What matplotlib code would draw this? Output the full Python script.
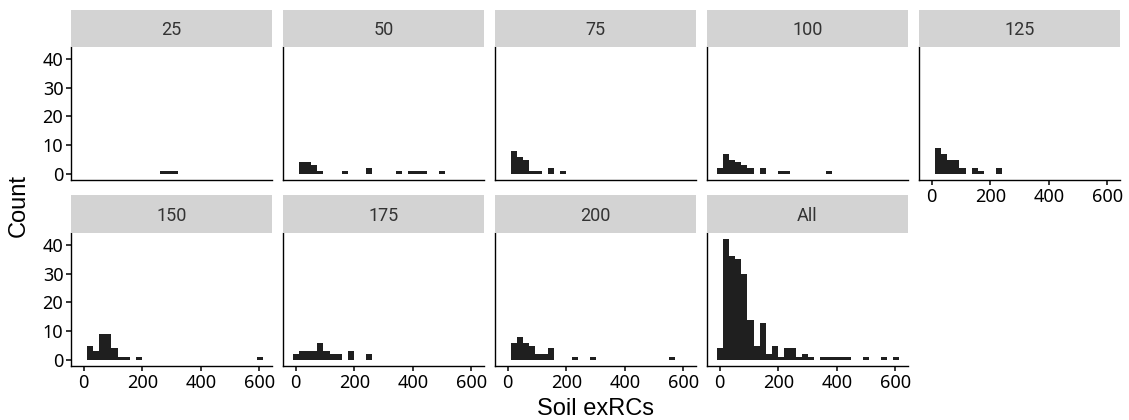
import numpy as np
import matplotlib.pyplot as plt

# histogram bins shared by every facet (30 bins, as in ggplot default)
bin_center0 = 2.0
bin_width = 20.7
n_bins = 30

panel_names = ["25", "50", "75", "100", "125", "150", "175", "200", "All"]

# counts per bin for each facet
counts_25 = [0,0,0,0,0,0,0,0,0,0,0,0,0,1,1,1,0,0,0,0,0,0,0,0,0,0,0,0,0,0]
counts_50 = [0,4,4,3,1,0,0,0,1,0,0,0,2,0,0,0,0,1,0,1,1,1,0,0,1,0,0,0,0,0]
counts_75 = [0,8,6,5,1,1,0,2,0,1,0,0,0,0,0,0,0,0,0,0,0,0,0,0,0,0,0,0,0,0]
counts_100 = [2,7,5,4,3,2,0,2,0,0,1,1,0,0,0,0,0,0,1,0,0,0,0,0,0,0,0,0,0,0]
counts_125 = [0,9,7,5,5,2,0,2,1,0,0,2,0,0,0,0,0,0,0,0,0,0,0,0,0,0,0,0,0,0]
counts_150 = [0,5,3,9,9,4,1,1,0,1,0,0,0,0,0,0,0,0,0,0,0,0,0,0,0,0,0,0,0,1]
counts_175 = [2,3,3,3,6,3,2,2,0,3,0,0,2,0,0,0,0,0,0,0,0,0,0,0,0,0,0,0,0,0]
counts_200 = [0,6,8,6,5,2,2,4,0,0,0,1,0,0,1,0,0,0,0,0,0,0,0,0,0,0,0,1,0,0]
counts_all = [4,42,36,35,30,14,5,13,2,5,1,4,4,1,2,1,0,1,1,1,1,1,0,0,1,0,0,1,0,1]

panel_counts = [counts_25, counts_50, counts_75, counts_100, counts_125,
                counts_150, counts_175, counts_200, counts_all]

x_ticks = [0, 200, 400, 600]
y_ticks = [0, 10, 20, 30, 40]

W, H = 1129, 420
fig = plt.figure(figsize=(W / 100, H / 100), dpi=100)

centers = bin_center0 + bin_width * np.arange(n_bins)

left0 = 71
pw = 201
gap = 11
rows = [(47, 180, 10), (233, 366, 195)]  # (plot top, plot bottom, strip top)

for i, (name, cnt) in enumerate(zip(panel_names, panel_counts)):
    r, c = divmod(i, 5)
    top, bottom, stop = rows[r]
    x0 = left0 + c * (pw + gap)
    ax = fig.add_axes([x0 / W, 1 - bottom / H, pw / W, (bottom - top) / H])
    cnt = np.array(cnt)
    m = cnt > 0
    ax.bar(centers[m], cnt[m], width=bin_width, color="#1f1f1f", linewidth=0)
    ax.set_xlim(-43, 643)
    ax.set_ylim(-2.1, 44.1)
    for s in ["top", "right"]:
        ax.spines[s].set_visible(False)
    for s in ["left", "bottom"]:
        ax.spines[s].set_linewidth(1.0)
        ax.spines[s].set_color("black")
    ax.set_xticks(x_ticks)
    ax.set_yticks(y_ticks)
    ax.tick_params(length=3.5, width=1.1, color="black", pad=2,
                   labelsize=13, labelcolor="black")
    for lab in ax.get_xticklabels() + ax.get_yticklabels():
        lab.set_family("Noto Sans")
    show_x = (r == 1) or (c == 4)
    if not show_x:
        ax.tick_params(axis="x", bottom=False, labelbottom=False)
    if c != 0:
        ax.tick_params(axis="y", left=False, labelleft=False)

    # facet strip
    sax = fig.add_axes([x0 / W, 1 - top / H, pw / W, (top - stop) / H])
    sax.set_facecolor("#d3d3d3")
    sax.set_xticks([])
    sax.set_yticks([])
    for s in sax.spines.values():
        s.set_visible(False)
    sax.text(0.5, 0.45, name, ha="center", va="center", fontsize=13,
             color="#333333", family="Roboto", transform=sax.transAxes)

fig.text(18.5 / W, 1 - 205 / H, "Count", rotation=90, ha="center", va="center",
         fontsize=17, family="Liberation Sans")
fig.text(595.5 / W, 1 - 409 / H, "Soil exRCs", ha="center", va="center",
         fontsize=17, family="Liberation Sans")

fig.savefig("out.png", dpi=100)
